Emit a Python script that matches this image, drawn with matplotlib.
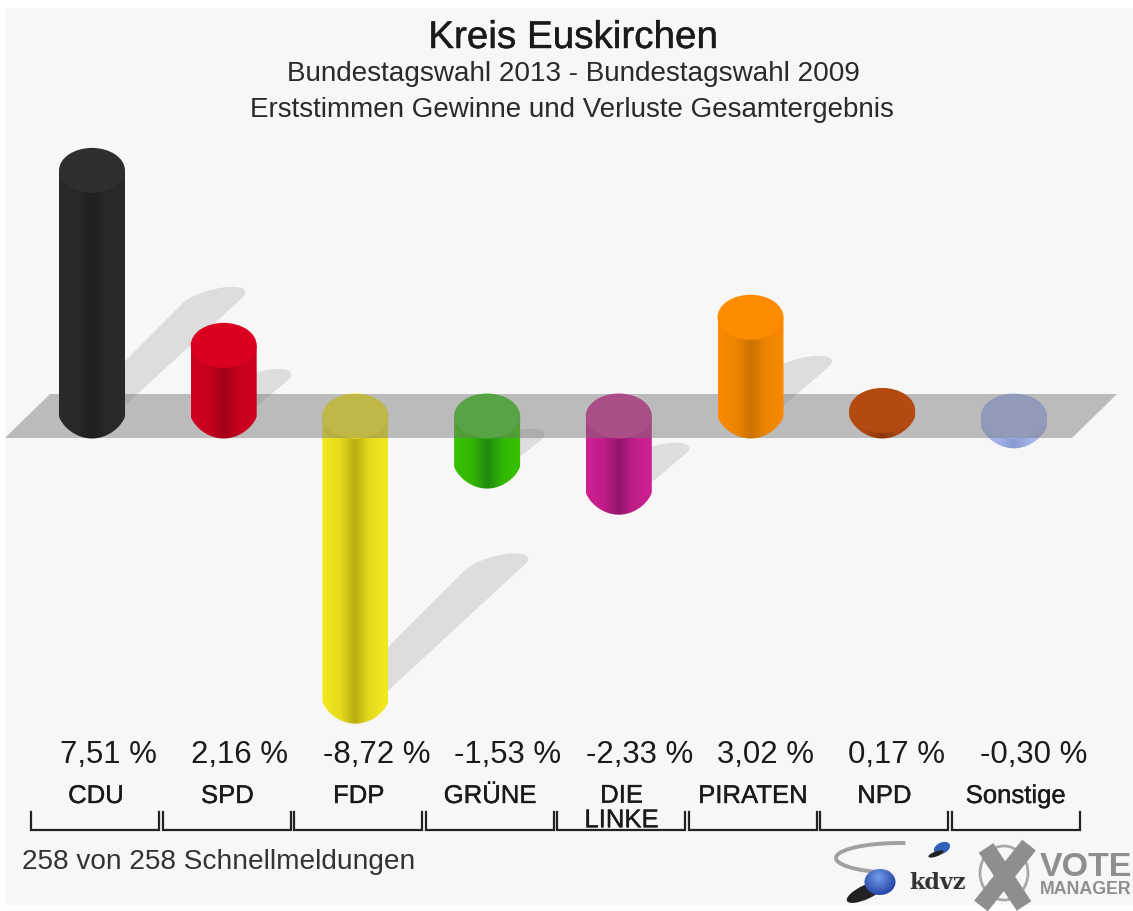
import numpy as np
import matplotlib
matplotlib.use('Agg')
import matplotlib.pyplot as plt
import matplotlib.patheffects as pe
from matplotlib.colors import to_rgb
from matplotlib.patches import Polygon, Rectangle, Ellipse, Arc

plt.rcParams['font.family'] = ['Liberation Sans', 'DejaVu Sans']

# Data
parties = ['CDU', 'SPD', 'FDP', 'GRÜNE', 'DIE\nLINKE', 'PIRATEN', 'NPD', 'Sonstige']
values = [7.51, 2.16, -8.72, -1.53, -2.33, 3.02, 0.17, -0.30]
labels = ['7,51 %', '2,16 %', '-8,72 %', '-1,53 %', '-2,33 %', '3,02 %', '0,17 %', '-0,30 %']

# Colours per bar: side, dark stripe on the side, top cap
side_colors = ['#2a2a2a', '#d0001f', '#f5ea20', '#38c400', '#cf2092', '#fa8a00', '#b44a12', '#aab8ee']
dark_colors = ['#202020', '#a30018', '#b8ae12', '#1f8a10', '#92156b', '#c97200', '#8a380c', '#8a9ad0']
cap_colors = ['#2f2f2f', '#dc0020', '#fff020', '#43ca21', '#d72e98', '#ff8c00', '#b44a12', '#aabbf4']

W, H = 1133, 911
SPACING = 131.7   # px between bars
UNIT = 32.7       # px per percentage point
X0, Y0 = 92, 416  # px position of first bar on the zero line
RX, RY = 33 / SPACING, 22.5 / UNIT

fig = plt.figure(figsize=(W / 100, H / 100), dpi=100, facecolor='white')
ax = fig.add_axes([0, 0, 1, 1])
ax.set_xlim(-X0 / SPACING, (W - X0) / SPACING)
ax.set_ylim((Y0 - H) / UNIT, Y0 / UNIT)
ax.axis('off')

# Second axes in pixels, for texts, brackets and logos
pax = fig.add_axes([0, 0, 1, 1], facecolor='none')
pax.set_xlim(0, W)
pax.set_ylim(H, 0)
pax.axis('off')


def shadow(x, v):
    # bar shadow falls up and to the right, its length follows the value
    start = min(v, 0)
    dx, dy = abs(v) * 0.49 * UNIT / SPACING, abs(v) * 0.47
    t = np.linspace(0, 2 * np.pi, 200)
    ex = RX * np.cos(t)
    ey = 11 / UNIT * np.sin(t) + 0.25 * RX * np.cos(t) * SPACING / UNIT
    nx, ny = np.gradient(ey), -np.gradient(ex)
    side = (nx * dx + ny * dy) > 0
    # base end stays hidden behind the bar, very short shadows shrink away
    k = np.where(side, 0.8 + 0.2 * min(abs(v), 1), 0.8)
    ax.add_patch(Polygon(np.c_[x + k * ex + dx * side, start + k * ey + dy * side], closed=True,
                         fc='#000000', alpha=0.1, ec='none', zorder=1))


def bar(x, v, side, dark, cap, z):
    top = max(v, 0)
    low = min(v, 0)
    # the lower end comes to a soft point, a bit sharper than a half ellipse
    s = np.linspace(-1, 1, 121)
    lower = np.c_[x + RX * s, low - RY * (1 - s ** 2) ** 0.72]
    outline = np.vstack([[[x - RX, top]], lower, [[x + RX, top]]])
    a, b = np.array(to_rgb(side)), np.array(to_rgb(dark))
    stops = [0, 0.28, 0.5, 0.72, 1]
    c = np.array([a, 0.75 * a + 0.25 * b, b, 0.75 * a + 0.25 * b, a])
    u = np.linspace(0, 1, 200)
    grad = np.stack([np.interp(u, stops, c[:, i]) for i in range(3)], axis=1)[None, :, :]
    im = ax.imshow(grad, extent=(x - RX, x + RX, low - RY - 0.1, top + 0.1), aspect='auto',
                   interpolation='bilinear', zorder=z)
    clip = Polygon(outline, closed=True, transform=ax.transData, fc='none', ec='none')
    ax.add_patch(clip)
    im.set_clip_path(clip)
    ax.add_patch(Ellipse((x, top), 2 * RX, 2 * RY, fc=cap, ec='none', zorder=z + 0.1))


ax.add_patch(Rectangle((-X0 / SPACING + 5 / SPACING, (Y0 - 905) / UNIT), (W - 5) / SPACING, (905 - 8) / UNIT,
                       fc='#f7f7f7', ec='none', zorder=0))

for i, v in enumerate(values):
    shadow(i, v)

# negative bars sit below the floor band, positive ones on top of it
for i, v in enumerate(values):
    if v < 0:
        bar(i, v, side_colors[i], dark_colors[i], cap_colors[i], 2)

band_l, band_r = (5 - X0) / SPACING, (1072 - X0) / SPACING
skew = 45 / SPACING
band_h = 22 / UNIT
ax.add_patch(Polygon([[band_l, -band_h], [band_r, -band_h], [band_r + skew, band_h], [band_l + skew, band_h]],
                     closed=True, fc='#757575', alpha=0.46, ec='none', zorder=3))

for i, v in enumerate(values):
    if v >= 0:
        bar(i, v, side_colors[i], dark_colors[i], cap_colors[i], 4)

# Titles
title = pax.text(573, 38, 'Kreis Euskirchen', fontsize=27.8, ha='center', va='center', color='#1a1a1a')
title.set_path_effects([pe.withStroke(linewidth=0.3, foreground='#1a1a1a')])
pax.text(573, 74, 'Bundestagswahl 2013 - Bundestagswahl 2009', fontsize=20.1, ha='center', va='center', color='#2a2a2a')
pax.text(572, 110, 'Erststimmen Gewinne und Verluste Gesamtergebnis', fontsize=20, ha='center', va='center', color='#2a2a2a')

# Value and party labels
for i, (lab, name) in enumerate(zip(labels, parties)):
    cx = 96 + i * 131.4
    pax.text(60 + i * 131.4, 755, lab, fontsize=22.4, ha='left', va='center', color='#1a1a1a')
    t = pax.text(cx, 796 + 12 * ('\n' in name), name, fontsize=18.5, ha='center', va='center', color='#1a1a1a',
                 linespacing=1.03)
    t.set_path_effects([pe.withStroke(linewidth=0.25, foreground='#1a1a1a')])
    left = 31 + i * 131.5
    pax.plot([left, left, left + 128, left + 128], [812, 830, 830, 812], color='#222222', lw=1.6,
             solid_joinstyle='miter')

pax.text(22, 862, '258 von 258 Schnellmeldungen', fontsize=20.2, ha='left', va='center', color='#333333')

# kdvz logo
pax.add_patch(Arc((900, 858), 128, 30, theta1=125, theta2=290, color='#a0a0a0', lw=2.8))
pax.add_patch(Ellipse((942, 848), 17, 11, angle=-25, fc='#2f62b8', ec='none'))
pax.add_patch(Ellipse((936, 854), 16, 5, angle=-20, fc='#222222', ec='none'))
pax.add_patch(Ellipse((866, 892), 42, 14, angle=-25, fc='#222222', ec='none'))
gy, gx = np.mgrid[-1:1:80j, -1:1:80j]
r = np.clip(np.hypot(gx + 0.1, gy + 0.3) / 1.3, 0, 1)
sphere = np.stack([0.45 - 0.35 * r, 0.62 - 0.4 * r, 0.92 - 0.3 * r], axis=2)
im = pax.imshow(sphere, extent=(864, 896, 898, 866), aspect='auto', zorder=3)
im.set_clip_path(Ellipse((880, 882), 31, 26, transform=pax.transData))
pax.set_xlim(0, W)
pax.set_ylim(H, 0)
pax.text(938, 883, 'kdvz', fontsize=16, family='DejaVu Serif', fontweight='bold', ha='center', va='center', color='#333333')

# Vote manager logo
pax.add_patch(Ellipse((1004, 873), 48, 54, fc='none', ec='#a8a8a8', lw=2))
pax.plot([986, 1024], [848, 906], color='#8e8e8e', lw=12.5, solid_capstyle='butt')
pax.plot([1029, 981], [845, 906], color='#8e8e8e', lw=12.5, solid_capstyle='butt')
pax.text(1040, 867, 'VOTE', fontsize=24.5, fontweight='bold', ha='left', va='center', color='#8e8e8e')
pax.text(1040, 890, 'MANAGER', fontsize=12.8, fontweight='bold', ha='left', va='center', color='#8e8e8e')

fig.savefig('out.png', dpi=100, facecolor='white')
